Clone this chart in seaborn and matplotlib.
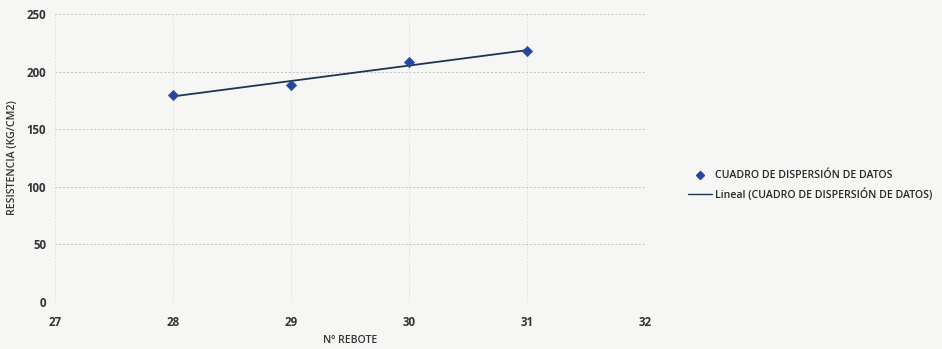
import numpy as np
import pandas as pd
import matplotlib
matplotlib.use("Agg")
import matplotlib.pyplot as plt
import seaborn as sns
from matplotlib.lines import Line2D

# Rebound number vs. compressive strength
rebote = [28, 29, 30, 31]
resistencia = [180, 188, 208, 218]

x_ticks = [27, 28, 29, 30, 31, 32]
y_ticks = [0, 50, 100, 150, 200, 250]

serie = "CUADRO DE DISPERSIÓN DE DATOS"
tendencia = "Lineal (CUADRO DE DISPERSIÓN DE DATOS)"

sns.set_theme(style="white")
plt.rcParams["font.family"] = ["Open Sans", "DejaVu Sans"]

df = pd.DataFrame({"rebote": rebote, "resistencia": resistencia})

fig = plt.figure(figsize=(9.42, 3.49), dpi=100)
fig.patch.set_facecolor("#f6f6f4")
ax = fig.add_axes([0.058, 0.135, 0.627, 0.825])
ax.set_facecolor("#f6f6f4")

marker_color = "#2647a0"
line_color = "#1d3550"

# least-squares trend line over the data range
sns.regplot(data=df, x="rebote", y="resistencia", ax=ax, scatter=False,
            ci=None, truncate=True,
            line_kws=dict(color=line_color, lw=1.3, zorder=2))
sns.scatterplot(data=df, x="rebote", y="resistencia", ax=ax, marker="D",
                s=28, color=marker_color, edgecolor=marker_color, zorder=3)

ax.set_xlim(27, 32)
ax.set_ylim(0, 250)
ax.set_xticks(x_ticks)
ax.set_yticks(y_ticks)
ax.set_xticklabels([str(t) for t in x_ticks], fontsize=8.3, fontweight="bold",
                   color="#333333")
ax.set_yticklabels([str(t) for t in y_ticks], fontsize=8.3, fontweight="bold",
                   color="#333333")
ax.tick_params(axis="x", length=0, pad=10)
ax.tick_params(axis="y", length=0, pad=6)

ax.grid(True, axis="y", color="#c4c4c4", lw=0.7, ls=(0, (2, 2)))
ax.grid(True, axis="x", color="#dcdcdc", lw=0.6, ls=(0, (2, 2)))
for side in ax.spines.values():
    side.set_visible(False)

ax.set_xlabel("Nº REBOTE", fontsize=7.6, color="#333333", fontweight="semibold")
ax.xaxis.set_label_coords(0.5, -0.115)
ax.set_ylabel("RESISTENCIA (KG/CM2)", fontsize=7.6, color="#333333",
              fontweight="semibold", labelpad=6)

handles = [
    Line2D([], [], marker="D", ls="none", color=marker_color, markersize=4),
    Line2D([], [], color=line_color, lw=1.0),
]
fig.legend(handles, [serie, tendencia], loc="center left",
           bbox_to_anchor=(0.72, 0.468), frameon=False,
           prop=dict(size=7.6, weight="semibold"),
           handlelength=2.3, handletextpad=0.3, labelspacing=0.7)

fig.savefig("out.png", dpi=100, facecolor=fig.get_facecolor())
